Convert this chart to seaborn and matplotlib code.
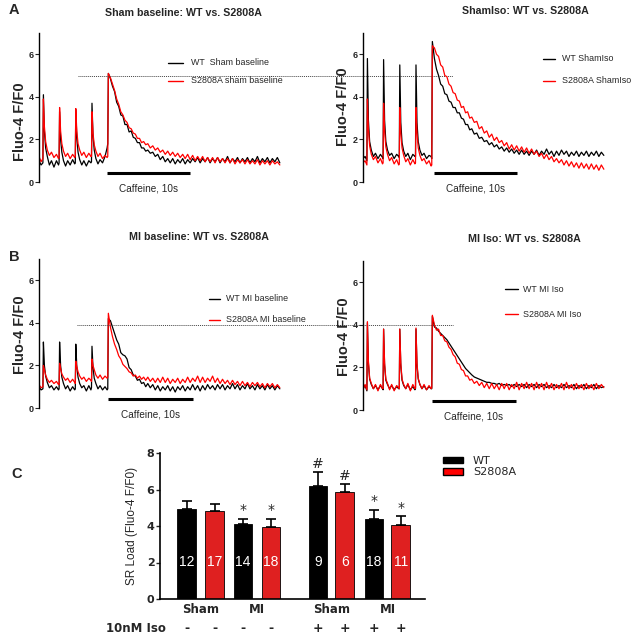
import matplotlib.pyplot as plt
import matplotlib.font_manager as fm
import seaborn as sns
import pandas as pd
from matplotlib.patches import Patch

# time axis (s) shared by all four Fluo-4 traces
TIME = [0.0, 0.25,
        0.47, 0.53, 0.65, 0.8, 1.0, 1.25, 1.5, 1.8, 2.1, 2.35,
        2.42, 2.48, 2.6, 2.75, 2.95, 3.2, 3.45, 3.75, 4.05, 4.3,
        4.37, 4.43, 4.55, 4.7, 4.9, 5.15, 5.4, 5.7, 6.0, 6.25,
        6.32, 6.38, 6.5, 6.65, 6.85, 7.1, 7.35, 7.65, 7.95, 8.2,
        8.28, 8.35, 8.6, 8.85, 9.1, 9.35, 9.6, 9.85, 10.1, 10.35, 10.6, 10.85,
        11.1, 11.35, 11.6, 11.85, 12.1, 12.35, 12.6, 12.85,
        13.1, 13.4, 13.7, 14.0, 14.3, 14.6, 14.9, 15.2, 15.5, 15.8,
        16.1, 16.4, 16.7, 17.0, 17.3, 17.6, 17.9, 18.2, 18.5, 18.8,
        19.1, 19.4, 19.7, 20.0, 20.3, 20.6, 20.9, 21.2, 21.5, 21.8,
        22.1, 22.4, 22.7, 23.0, 23.3, 23.6, 23.9, 24.2, 24.5, 24.8,
        25.1, 25.4, 25.7, 26.0, 26.3, 26.6, 26.9, 27.2, 27.5, 27.8,
        28.1, 28.4, 28.7, 29.0]

WT_SHAM_BASE = [1.0, 0.8,
                0.9, 4.1, 2.4, 1.6, 1.2, 0.8, 1.0, 0.7, 1.0, 0.8,
                0.9, 3.3, 2.0, 1.4, 1.0, 0.75, 1.0, 0.8, 1.05, 0.85,
                0.9, 3.4, 2.1, 1.4, 1.05, 0.8, 1.0, 0.75, 1.0, 0.9,
                0.95, 3.7, 2.2, 1.5, 1.1, 0.85, 1.05, 0.9, 1.2, 1.6,
                1.8, 5.1, 4.85, 4.5, 4.25, 3.75, 3.55, 3.15, 3.1, 2.7, 2.7, 2.35,
                2.4, 2.1, 2.05, 1.85, 1.85, 1.6, 1.6, 1.45,
                1.5, 1.35, 1.4, 1.2, 1.3, 1.05, 1.2, 0.95, 1.1, 0.9,
                1.1, 0.85, 1.05, 0.9, 1.1, 0.85, 1.05, 0.9, 1.1, 0.95,
                1.15, 0.9, 1.1, 0.95, 1.15, 0.9, 1.1, 0.95, 1.15, 0.9,
                1.1, 0.95, 1.2, 0.9, 1.1, 0.95, 1.15, 0.9, 1.1, 0.95,
                1.15, 0.9, 1.1, 0.95, 1.2, 0.9, 1.1, 0.95, 1.15, 0.9,
                1.1, 0.95, 1.15, 0.9]
S2808A_SHAM_BASE = [1.2, 0.95,
                    1.1, 3.9, 2.6, 1.9, 1.5, 1.25, 1.4, 1.15, 1.3, 1.1,
                    1.15, 3.5, 2.4, 1.8, 1.45, 1.2, 1.35, 1.1, 1.3, 1.15,
                    1.2, 3.45, 2.4, 1.8, 1.5, 1.25, 1.4, 1.15, 1.35, 1.2,
                    1.2, 3.3, 2.3, 1.75, 1.45, 1.2, 1.35, 1.1, 1.25, 1.15,
                    1.2, 5.1, 4.9, 4.6, 4.3, 3.9, 3.65, 3.3, 3.15, 2.9, 2.8, 2.55,
                    2.5, 2.3, 2.25, 2.05, 2.05, 1.85, 1.9, 1.75,
                    1.8, 1.6, 1.7, 1.5, 1.6, 1.4, 1.5, 1.3, 1.45, 1.25,
                    1.4, 1.2, 1.35, 1.15, 1.3, 1.1, 1.3, 1.05, 1.25, 1.0,
                    1.2, 1.0, 1.2, 0.95, 1.15, 0.95, 1.15, 0.9, 1.15, 0.95,
                    1.1, 0.9, 1.1, 0.9, 1.1, 0.85, 1.05, 0.9, 1.05, 0.85,
                    1.05, 0.85, 1.0, 0.85, 1.05, 0.8, 1.0, 0.85, 1.0, 0.8,
                    1.0, 0.85, 0.95, 0.8]
WT_SHAM_ISO = [1.1, 1.2,
               1.0, 5.8, 2.9, 1.9, 1.5, 1.2, 1.35, 1.1, 1.3, 1.15,
               1.1, 5.75, 2.9, 1.9, 1.5, 1.25, 1.35, 1.1, 1.3, 1.2,
               1.15, 5.5, 2.8, 1.85, 1.45, 1.2, 1.35, 1.05, 1.3, 1.2,
               1.2, 5.5, 2.8, 1.9, 1.5, 1.25, 1.35, 1.1, 1.25, 1.2,
               1.1, 6.6, 5.8, 5.3, 5.0, 4.6, 4.5, 4.15, 4.1, 3.8, 3.75, 3.5,
               3.5, 3.25, 3.25, 3.0, 2.95, 2.7, 2.7, 2.45,
               2.5, 2.25, 2.3, 2.05, 2.1, 1.9, 1.95, 1.75, 1.85, 1.65,
               1.75, 1.55, 1.65, 1.45, 1.6, 1.4, 1.55, 1.35, 1.5, 1.3,
               1.5, 1.3, 1.45, 1.25, 1.45, 1.3, 1.5, 1.25, 1.45, 1.3,
               1.55, 1.3, 1.45, 1.2, 1.45, 1.25, 1.5, 1.3, 1.45, 1.2,
               1.4, 1.25, 1.45, 1.2, 1.4, 1.25, 1.45, 1.2, 1.4, 1.25,
               1.45, 1.2, 1.4, 1.25]
S2808A_SHAM_ISO = [0.9, 1.0,
                   0.8, 3.9, 2.5, 1.7, 1.3, 1.05, 1.2, 0.9, 1.1, 0.85,
                   0.9, 3.7, 2.4, 1.65, 1.3, 1.0, 1.15, 0.85, 1.05, 0.8,
                   0.85, 3.5, 2.3, 1.6, 1.25, 0.95, 1.1, 0.8, 1.05, 0.85,
                   0.9, 3.5, 2.3, 1.6, 1.25, 1.0, 1.1, 0.85, 1.0, 0.75,
                   0.8, 6.4, 6.3, 6.0, 5.9, 5.5, 5.4, 5.0, 4.95, 4.6, 4.5, 4.2,
                   4.15, 3.85, 3.8, 3.5, 3.55, 3.25, 3.3, 3.0,
                   3.05, 2.8, 2.85, 2.5, 2.6, 2.3, 2.4, 2.1, 2.25, 1.95,
                   2.1, 1.85, 1.95, 1.7, 1.85, 1.55, 1.75, 1.5, 1.7, 1.45,
                   1.65, 1.4, 1.6, 1.35, 1.55, 1.3, 1.45, 1.2, 1.35, 1.1,
                   1.3, 1.05, 1.2, 0.95, 1.1, 0.9, 1.05, 0.8, 1.0, 0.75,
                   0.95, 0.7, 0.9, 0.65, 0.9, 0.65, 0.85, 0.6, 0.85, 0.6,
                   0.8, 0.55, 0.8, 0.6]
WT_MI_BASE = [1.0, 0.85,
              0.9, 3.1, 2.0, 1.5, 1.2, 0.95, 1.05, 0.85, 1.0, 0.85,
              0.9, 3.1, 2.0, 1.45, 1.15, 0.9, 1.05, 0.8, 1.0, 0.85,
              0.9, 3.0, 1.95, 1.45, 1.15, 0.95, 1.05, 0.8, 1.05, 0.85,
              0.95, 2.9, 1.9, 1.4, 1.15, 0.9, 1.05, 0.85, 1.0, 0.85,
              0.9, 4.2, 4.1, 3.8, 3.5, 3.2, 3.0, 2.6, 2.5, 2.45, 2.3, 1.9,
              1.8, 1.55, 1.5, 1.3, 1.35, 1.15, 1.2, 1.0,
              1.15, 0.95, 1.1, 0.85, 1.05, 0.8, 1.0, 0.85, 1.05, 0.8,
              1.0, 0.75, 1.0, 0.85, 1.05, 0.8, 1.0, 0.85, 1.1, 0.85,
              1.05, 0.8, 1.05, 0.85, 1.1, 0.9, 1.05, 0.85, 1.1, 0.9,
              1.1, 0.85, 1.05, 0.9, 1.15, 0.9, 1.1, 0.85, 1.05, 0.9,
              1.15, 0.9, 1.05, 0.85, 1.1, 0.9, 1.05, 0.85, 1.1, 0.9,
              1.05, 0.85, 1.05, 0.9]
S2808A_MI_BASE = [1.1, 0.95,
                  1.0, 2.0, 1.8, 1.55, 1.35, 1.2, 1.3, 1.15, 1.25, 1.1,
                  1.1, 2.1, 1.85, 1.6, 1.45, 1.3, 1.4, 1.2, 1.35, 1.2,
                  1.15, 2.2, 1.95, 1.7, 1.5, 1.35, 1.45, 1.25, 1.4, 1.3,
                  1.25, 2.3, 2.0, 1.8, 1.55, 1.4, 1.55, 1.35, 1.5, 1.4,
                  1.45, 4.45, 3.8, 3.35, 3.0, 2.75, 2.45, 2.3, 2.05, 1.95, 1.85, 1.7,
                  1.65, 1.5, 1.55, 1.4, 1.5, 1.35, 1.45, 1.3,
                  1.45, 1.25, 1.4, 1.2, 1.4, 1.2, 1.45, 1.2, 1.4, 1.15,
                  1.35, 1.2, 1.4, 1.15, 1.35, 1.2, 1.45, 1.2, 1.4, 1.25,
                  1.5, 1.2, 1.45, 1.2, 1.4, 1.25, 1.5, 1.2, 1.4, 1.15,
                  1.35, 1.15, 1.3, 1.1, 1.3, 1.1, 1.25, 1.05, 1.25, 1.05,
                  1.2, 1.0, 1.2, 1.05, 1.2, 1.0, 1.15, 0.95, 1.15, 1.0,
                  1.15, 0.95, 1.1, 0.95]
WT_MI_ISO = [1.0, 1.15,
             0.9, 4.1, 2.2, 1.45, 1.2, 1.0, 1.15, 0.95, 1.15, 1.0,
             0.95, 3.8, 2.1, 1.4, 1.2, 1.0, 1.15, 0.95, 1.1, 1.0,
             1.0, 3.8, 2.1, 1.4, 1.15, 1.0, 1.2, 0.95, 1.1, 0.95,
             1.0, 3.8, 2.1, 1.45, 1.2, 1.0, 1.15, 0.95, 1.1, 1.0,
             1.0, 4.4, 3.9, 3.85, 3.7, 3.6, 3.5, 3.4, 3.3, 3.15, 3.0, 2.85,
             2.7, 2.55, 2.4, 2.25, 2.1, 1.95, 1.85, 1.75,
             1.65, 1.55, 1.5, 1.45, 1.4, 1.35, 1.3, 1.3, 1.25, 1.25,
             1.2, 1.25, 1.15, 1.2, 1.15, 1.2, 1.1, 1.2, 1.1, 1.2,
             1.1, 1.2, 1.05, 1.2, 1.1, 1.2, 1.05, 1.2, 1.1, 1.2,
             1.05, 1.15, 1.05, 1.2, 1.05, 1.15, 1.05, 1.2, 1.05, 1.15,
             1.05, 1.2, 1.0, 1.15, 1.05, 1.2, 1.0, 1.15, 1.05, 1.2,
             1.0, 1.15, 1.05, 1.1]
S2808A_MI_ISO = [0.95, 1.2,
                 0.95, 4.15, 2.3, 1.5, 1.25, 1.0, 1.2, 0.9, 1.2, 1.0,
                 1.0, 3.8, 2.2, 1.45, 1.25, 0.95, 1.2, 0.9, 1.15, 1.05,
                 1.0, 3.8, 2.2, 1.45, 1.2, 1.0, 1.25, 0.9, 1.2, 1.0,
                 1.05, 3.85, 2.2, 1.5, 1.2, 1.0, 1.2, 0.95, 1.15, 1.0,
                 1.05, 4.45, 4.0, 3.75, 3.8, 3.5, 3.5, 3.25, 3.2, 2.95, 2.85, 2.6,
                 2.5, 2.2, 2.15, 1.9, 1.85, 1.6, 1.6, 1.4,
                 1.45, 1.25, 1.35, 1.15, 1.3, 1.05, 1.25, 1.0, 1.25, 1.0,
                 1.2, 0.95, 1.25, 1.0, 1.25, 0.95, 1.2, 1.0, 1.3, 0.95,
                 1.25, 1.0, 1.3, 1.0, 1.25, 0.95, 1.3, 1.0, 1.25, 0.95,
                 1.3, 1.0, 1.25, 0.95, 1.2, 1.0, 1.25, 0.95, 1.3, 1.0,
                 1.2, 0.95, 1.25, 1.0, 1.2, 0.95, 1.25, 1.0, 1.2, 0.95,
                 1.25, 1.0, 1.2, 1.05]

# panel C: SR load
POSITIONS = [0, 1, 2, 3, 4.68, 5.64, 6.68, 7.64]
GENOTYPE = ["WT", "S2808A"] * 4
SR_LOAD = [4.92, 4.80, 4.09, 3.93, 6.19, 5.85, 4.37, 4.04]
SR_SEM = [0.47, 0.39, 0.29, 0.44, 0.75, 0.43, 0.51, 0.49]
N_CELLS = ["12", "17", "14", "18", "9", "6", "18", "11"]
SIG_MARK = ["", "", "*", "*", "#", "#", "*", "*"]
MODEL = ["Sham", "MI", "Sham", "MI"]
ISO = ["-", "-", "-", "-", "+", "+", "+", "+"]

COLORS = {"WT": "black", "S2808A": "red"}

sns.set_style("white")
names = {f.name for f in fm.fontManager.ttflist}
if "Liberation Sans Narrow" in names:
    NARROW, K = "Liberation Sans Narrow", 1.0
else:
    NARROW, K = "Liberation Sans", 0.85
plt.rcParams["font.family"] = ["Liberation Sans", "DejaVu Sans"]

W, H = 637, 636
fig = plt.figure(figsize=(6.37, 6.36), dpi=100)


def fx(px):
    return px / W


def fy(py):
    return 1 - py / H


def trace_panel(left_px, bottom_px, wt, mut, title, title_xy, ylab_xy,
                leg_labels, leg_pos, caff_span, dotted=None):
    ax = fig.add_axes([fx(left_px), fy(bottom_px), 245 / W, 149 / H])
    df = pd.DataFrame({
        "t": TIME + TIME,
        "F": wt + mut,
        "group": ["WT"] * len(wt) + ["S2808A"] * len(mut),
    })
    sns.lineplot(data=df, x="t", y="F", hue="group", hue_order=["WT", "S2808A"],
                 palette=COLORS, estimator=None, linewidth=0.9, legend=False, ax=ax)
    ax.set_xlim(0, 29.5)
    ax.set_ylim(0, 7)
    ax.set_xlabel("")
    ax.set_ylabel("")
    ax.set_xticks([])
    ax.set_yticks([0, 2, 4, 6])
    ax.set_yticklabels(["0", "2", "4", "6"], fontsize=6.5, fontweight="bold", family=NARROW)
    ax.tick_params(axis="y", direction="out", length=3, width=0.8, pad=1, left=True)
    sns.despine(ax=ax, bottom=True)
    ax.spines["left"].set_linewidth(1.0)
    ax.spines["left"].set_color("black")
    ax.patch.set_alpha(0)

    # caffeine bar
    ax.plot(caff_span, [0.42, 0.42], color="black", lw=2.2, clip_on=False, solid_capstyle="butt")
    ax.text(sum(caff_span) / 2, -0.3, "Caffeine, 10s", ha="center", va="center",
            fontsize=8.5 * K, family=NARROW)

    if dotted is not None:
        x0, x1, yv = dotted
        ax.plot([x0, x1], [yv, yv], color="#444444", lw=0.7, ls=(0, (1, 1)), clip_on=False)

    # legend drawn in axes fraction
    hx0, hx1, tx, y1, y2 = leg_pos
    for yy, lab, col in [(y1, leg_labels[0], "black"), (y2, leg_labels[1], "red")]:
        ax.plot([hx0, hx1], [yy, yy], color=col, lw=1.0, transform=ax.transAxes, clip_on=False)
        ax.text(tx, yy, lab, transform=ax.transAxes, ha="left", va="center",
                fontsize=7.5 * K, family=NARROW)

    fig.text(fx(title_xy[0]), fy(title_xy[1]), title, ha="center", va="center",
             fontsize=9 * K, fontweight="bold", family=NARROW)
    fig.text(fx(ylab_xy[0]), fy(ylab_xy[1]), "Fluo-4 F/F0", rotation=90, ha="center",
             va="center", fontsize=10.5, fontweight="bold", family=NARROW)
    return ax


trace_panel(39, 182, WT_SHAM_BASE, S2808A_SHAM_BASE, "Sham baseline: WT vs. S2808A",
            (183, 13), (20, 122), ["WT  Sham baseline", "S2808A sham baseline"],
            (0.527, 0.588, 0.62, 0.80, 0.68), (8.2, 18.2), dotted=(4.7, 49.9, 5.0))
trace_panel(363, 182, WT_SHAM_ISO, S2808A_SHAM_ISO, "ShamIso: WT vs. S2808A",
            (525, 11), (343, 107), ["WT ShamIso", "S2808A ShamIso"],
            (0.735, 0.784, 0.812, 0.826, 0.678), (8.55, 18.55))
trace_panel(39, 408, WT_MI_BASE, S2808A_MI_BASE, "MI baseline: WT vs. S2808A",
            (199, 237), (20, 335), ["WT MI baseline", "S2808A MI baseline"],
            (0.694, 0.739, 0.763, 0.732, 0.591), (8.3, 18.55), dotted=(4.6, 49.9, 3.9))
trace_panel(363, 410, WT_MI_ISO, S2808A_MI_ISO, "MI Iso: WT vs. S2808A",
            (524, 239), (344, 337), ["WT MI Iso", "S2808A MI Iso"],
            (0.580, 0.633, 0.653, 0.812, 0.644), (8.3, 18.4))

# panel letters
for lab, (x, y) in {"A": (14, 10), "B": (14, 257), "C": (17, 474)}.items():
    fig.text(fx(x), fy(y), lab, ha="center", va="center", fontsize=10.5, fontweight="bold")

# ---- panel C ----
axc = fig.add_axes([fx(160), fy(599), 265 / W, 146 / H])
dfc = pd.DataFrame({"pos": POSITIONS, "load": SR_LOAD, "genotype": GENOTYPE})
sns.barplot(data=dfc, x="pos", y="load", hue="genotype", palette=COLORS,
            native_scale=True, dodge=False, width=0.7, errorbar=None,
            edgecolor="black", linewidth=0.6, legend=False, ax=axc)
axc.errorbar(POSITIONS, SR_LOAD, yerr=[[0] * len(SR_SEM), SR_SEM], fmt="none",
             ecolor="black", elinewidth=1.2, capsize=3.5, capthick=1.2, zorder=1)
axc.set_xlim(-0.96, 8.5)
axc.set_ylim(0, 8)
axc.set_xticks([])
axc.set_yticks([0, 2, 4, 6, 8])
axc.set_yticklabels(["0", "2", "4", "6", "8"], fontsize=8, fontweight="bold", family="DejaVu Sans")
axc.tick_params(axis="y", direction="out", length=3, width=1, pad=1, left=True)
axc.set_xlabel("")
axc.set_ylabel("SR Load (Fluo-4 F/F0)", fontsize=8.5, labelpad=6)
sns.despine(ax=axc)
for s in ["left", "bottom"]:
    axc.spines[s].set_linewidth(1.2)
    axc.spines[s].set_color("black")

for x, n, m, top in zip(POSITIONS, N_CELLS, SIG_MARK, [a + b for a, b in zip(SR_LOAD, SR_SEM)]):
    axc.text(x, 2.0, n, color="white", ha="center", va="center", fontsize=10)
    if m:
        axc.text(x, top + 0.1, m, ha="center", va="bottom", fontsize=10, family="DejaVu Sans")
for i, lab in enumerate(MODEL):
    xm = (POSITIONS[2 * i] + POSITIONS[2 * i + 1]) / 2
    axc.text(xm, -0.6, lab, ha="center", va="center", fontsize=8.5,
             fontweight="bold", family="DejaVu Sans", clip_on=False)
for x, s in zip(POSITIONS, ISO):
    axc.text(x, -1.6, s, ha="center", va="center", fontsize=9,
             fontweight="bold", family="DejaVu Sans", clip_on=False)
axc.text(-0.75, -1.6, "10nM Iso", ha="right", va="center", fontsize=8.5,
         fontweight="bold", family="DejaVu Sans", clip_on=False)

fig.legend(handles=[Patch(facecolor="black", edgecolor="black"),
                    Patch(facecolor="red", edgecolor="black")],
           labels=["WT", "S2808A"], loc="upper left", bbox_to_anchor=(fx(443), fy(456)),
           frameon=False, handlelength=1.8, handleheight=0.55, labelspacing=0.12,
           handletextpad=0.9, borderpad=0, borderaxespad=0,
           prop={"family": "DejaVu Sans", "size": 8})

fig.savefig("out.png", dpi=100)
